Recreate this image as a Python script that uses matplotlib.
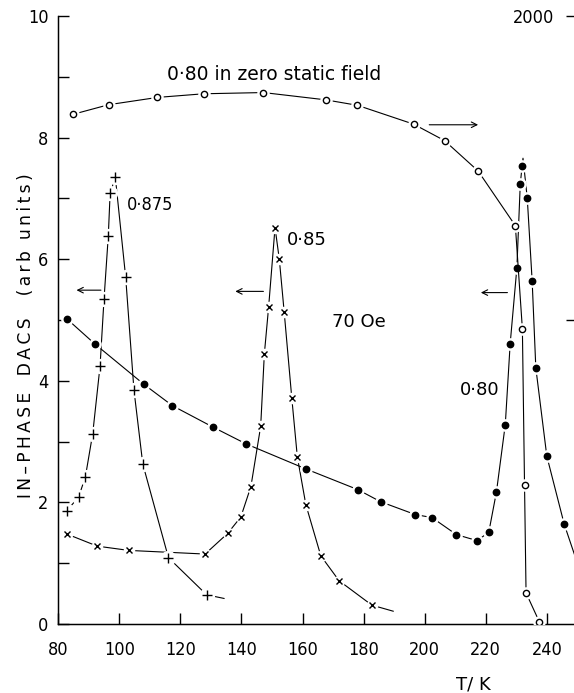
import matplotlib
matplotlib.use("Agg")
import matplotlib.pyplot as plt
import matplotlib.font_manager as fm

# ---------------- data ----------------
# 0.80 in zero static field (open circles, right-hand scale 0-2000)
zf_T = [84.7, 96.5, 112.5, 127.7, 147.2, 167.6, 178.0, 196.4, 206.5, 217.5,
        229.7, 232.0, 232.7, 233.2, 237.6]
zf_val = [1676, 1708, 1732, 1744, 1748, 1724, 1706, 1644, 1590, 1490,
          1310, 970, 458, 102, 6]

# 0.80 in 70 Oe (filled circles, left scale)
f80_T = [82.8, 91.9, 108.1, 117.4, 130.6, 141.6, 161.1, 178.1, 185.6, 196.9,
         202.4, 210.4, 217.2, 221.0, 223.5, 226.4, 228.0, 230.2, 231.3, 231.9,
         233.6, 235.2, 236.4, 240.0, 245.7]
f80_y = [5.02, 4.61, 3.94, 3.59, 3.24, 2.96, 2.55, 2.21, 2.01, 1.80,
         1.75, 1.47, 1.37, 1.51, 2.17, 3.28, 4.61, 5.86, 7.23, 7.53,
         7.00, 5.64, 4.21, 2.76, 1.64]
# drawn curve (no marker): peak tip and tail
f80_tip = (232.2, 7.66)
f80_tail = (249.0, 1.15)

# 0.875 (plus markers)
p875_T = [82.8, 86.7, 88.9, 91.3, 93.7, 95.0, 96.4, 97.0, 98.7, 102.1,
          104.8, 107.7, 116.1, 128.6]
p875_y = [1.86, 2.09, 2.42, 3.13, 4.24, 5.34, 6.38, 7.08, 7.35, 5.70,
          3.85, 2.63, 1.09, 0.48]
p875_tail = (134.3, 0.42)

# 0.85 (cross markers)
x85_T = [82.8, 92.8, 103.1, 128.1, 135.5, 139.8, 143.1, 146.3, 147.5, 148.9,
         151.0, 152.4, 154.0, 156.5, 158.3, 161.1, 166.0, 172.0, 182.7]
x85_y = [1.48, 1.28, 1.21, 1.15, 1.49, 1.76, 2.26, 3.25, 4.44, 5.21,
         6.52, 6.00, 5.13, 3.71, 2.75, 1.96, 1.12, 0.71, 0.31]
x85_tail = (189.7, 0.21)

x_ticks = [80, 100, 120, 140, 160, 180, 200, 220, 240]
y_ticks = list(range(0, 11))
y_ticklabels = ["0", "", "2", "", "4", "", "6", "", "8", "", "10"]

# ---------------- font ----------------
cond_files = [f for f in fm.fontManager.ttflist
              if f.name == "DejaVu Sans" and "ondensed" in f.fname]
plt.rcParams["font.family"] = ["DejaVu Sans"]
COND = "condensed" if cond_files else "normal"
plt.rcParams["font.stretch"] = COND

FS = 13

fig = plt.figure(figsize=(5.74, 6.93), dpi=100)
ax = fig.add_axes([0.1014, 0.0996, 0.8986, 0.8774])
ax.set_xlim(80, 248.9)
ax.set_ylim(0, 10)

LW = 0.8
C = "black"


def series(axis, T, Y, marker, ms, mfc, line_T, line_Y, mew=1.0):
    axis.plot(line_T, line_Y, color=C, lw=LW, zorder=2)
    axis.plot(T, Y, ls="none", marker="o", ms=ms + 3.5, mfc="white",
              mec="white", zorder=3)
    axis.plot(T, Y, ls="none", marker=marker, ms=ms, mfc=mfc, mec=C,
              mew=mew, zorder=4)


# right-hand axis for the zero-field curve
ax2 = ax.twinx()
ax2.set_ylim(0, 2000)
ax2.set_xlim(80, 248.9)
ax2.set_position(ax.get_position())
series(ax2, zf_T, zf_val, "o", 4.5, "white", zf_T, zf_val, mew=1.0)

# 70 Oe curves
lT = f80_T[:20] + [f80_tip[0]] + f80_T[20:] + [f80_tail[0]]
lY = f80_y[:20] + [f80_tip[1]] + f80_y[20:] + [f80_tail[1]]
series(ax, f80_T, f80_y, "o", 4.6, C, lT, lY)
series(ax, p875_T, p875_y, "+", 6.5, C, p875_T + [p875_tail[0]],
       p875_y + [p875_tail[1]], mew=1.0)
series(ax, x85_T, x85_y, "x", 3.8, C, x85_T + [x85_tail[0]],
       x85_y + [x85_tail[1]], mew=1.0)

# axes styling
for a in (ax, ax2):
    a.spines["top"].set_visible(False)
    a.spines["right"].set_visible(False)
ax.spines["left"].set_linewidth(1.0)
ax.spines["bottom"].set_linewidth(1.0)

ax.set_xticks(x_ticks)
ax.set_xticklabels([str(v) for v in x_ticks])
ax.set_yticks(y_ticks)
ax.set_yticklabels(y_ticklabels)
ax.tick_params(axis="x", direction="in", length=8, width=1.0, pad=12,
               labelsize=FS)
ax.tick_params(axis="y", direction="in", length=8, width=1.0, pad=7,
               labelsize=FS)
ax.tick_params(axis="x", top=False)

ax2.set_yticks([1000, 2000])
ax2.set_yticklabels(["", "2000"])
ax2.tick_params(axis="y", direction="in", length=6, width=1.0, pad=-44,
                labelsize=FS)

ax.set_xlabel("T/ K", fontsize=FS, fontstretch="normal")
ax.xaxis.set_label_coords(0.804, -0.085)

TS = "\u2009"  # thin space used as letter spacing


def spaced(word):
    return TS.join(word)


ylab = spaced("IN\u2013PHASE") + "   " + spaced("DACS") + "    " + \
    spaced("(arb") + "  " + spaced("units)")
ax.set_ylabel(ylab, fontsize=12.3, fontstretch="normal")
ax.yaxis.set_label_coords(-0.045, 0.475)

# annotations
ax.text(115.6, 9.03, "0\u00b780 in zero static field", fontsize=13.5,
        va="center", ha="left", fontstretch="normal")
ax.text(102.5, 6.89, "0\u00b7875", fontsize=FS, va="center", ha="left")
ax.text(154.9, 6.32, "0\u00b785", fontsize=FS, va="center", ha="left",
        fontstretch="normal")
ax.text(169.7, 4.97, "70 Oe", fontsize=FS, va="center", ha="left",
        fontstretch="normal")
ax.text(211.6, 3.85, "0\u00b780", fontsize=FS, va="center", ha="left",
        fontstretch="normal")

ap = dict(arrowstyle="->", lw=0.8, color=C, shrinkA=0, shrinkB=0)
ax.annotate("", xy=(86.0, 5.49), xytext=(94.0, 5.49), arrowprops=ap)
ax.annotate("", xy=(138.0, 5.47), xytext=(147.2, 5.47), arrowprops=ap)
ax.annotate("", xy=(217.5, 8.21), xytext=(201.5, 8.21), arrowprops=ap)
ax.annotate("", xy=(218.4, 5.45), xytext=(227.1, 5.45), arrowprops=ap)

fig.savefig("out.png", dpi=100)
